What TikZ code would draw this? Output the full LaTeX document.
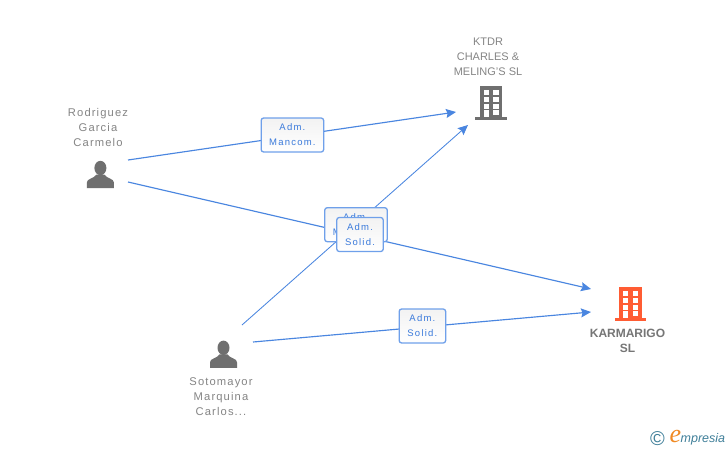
\documentclass[tikz,border=0pt]{standalone}
\usepackage{fontspec}
\setmainfont{Liberation Sans}
\newfontfamily\spacedfont[LetterSpace=10]{Liberation Sans}
\newfontfamily\labelfont[LetterSpace=13]{Liberation Sans}
\newfontfamily\logoefont{Liberation Serif}
\usetikzlibrary{arrows.meta}
\definecolor{linkblue}{HTML}{4A86E0}
\definecolor{boxblue}{HTML}{6FA0EA}
\definecolor{labelblue}{HTML}{3A7ADB}
\definecolor{icongrey}{HTML}{6F6F6F}
\definecolor{textgrey}{HTML}{858585}
\definecolor{boldgrey}{HTML}{767676}
\definecolor{orangeicon}{HTML}{FF5C33}
\definecolor{logoteal}{HTML}{3F7F99}
\definecolor{logoorange}{HTML}{F08A24}
\tikzset{
  link/.style={draw=linkblue,line width=1.15pt,-{Stealth[length=10pt,width=9pt,inset=1.5pt]}},
  rolebox/.style={draw=boxblue,line width=1.3pt,rounded corners=2.5pt,top color=black!5,bottom color=white,
    text=labelblue,align=center,inner sep=0pt,minimum height=34pt,
    font=\labelfont\fontsize{9.5}{15}\selectfont},
  personname/.style={text=textgrey,align=center,inner sep=0pt,font=\spacedfont\fontsize{11.2}{15}\selectfont},
  companyname/.style={text=textgrey,align=center,inner sep=0pt,font=\fontsize{11}{15}\selectfont},
  targetname/.style={text=boldgrey,align=center,inner sep=0pt,font=\bfseries\fontsize{12}{15}\selectfont},
  pics/person/.style={code={
    \fill[icongrey] (0,-6.5) ellipse [x radius=6,y radius=7.2];
    \fill[icongrey] (-13.5,13.5) -- (-13.5,8) .. controls (-13.5,4) and (-7,4.5) .. (-3.8,0)
      -- (3.8,0) .. controls (7,4.5) and (13.5,4) .. (13.5,8) -- (13.5,13.5) -- cycle;
  }},
  pics/building/.style={code={
    \fill[#1] (0,0) rectangle (22.4,33);
    \fill[#1] (-4.6,31) rectangle (27,34);
    \foreach \wy in {3.8,10.9,17.8}{
      \fill[white] (3.7,\wy) rectangle (9,\wy+4.9);
      \fill[white] (13.2,\wy) rectangle (18.5,\wy+4.9);
    }
    \fill[white] (3.7,24.4) rectangle (9,31);
    \fill[white] (13.2,24.4) rectangle (18.5,29.2);
  }},
}
\begin{document}
\begin{tikzpicture}[x=1pt,y=-1pt]
\useasboundingbox[fill=white] (0,0) rectangle (728,450);
% connector ends
\coordinate (rodrigueztop) at (128,160);
\coordinate (rodriguezlow) at (128,182);
\coordinate (sotoupper) at (242,325);
\coordinate (sotolower) at (253,342);
\coordinate (ktdrleft) at (456,112);
\coordinate (ktdrlow) at (468,125);
\coordinate (karmaupper) at (591,289);
\coordinate (karmalower) at (591,312);
% connectors
\draw[link] (rodrigueztop) -- (ktdrleft);
\draw[link] (rodriguezlow) -- (karmaupper);
\draw[link,line width=.85pt] (sotoupper) -- (ktdrlow);
\draw[link] (sotolower) -- (karmalower);
% role boxes
\node[rolebox,minimum width=62.5pt] (mancomA) at (292.4,135) {Adm.\\Mancom.};
\node[rolebox,minimum width=62.5pt] (mancomB) at (356,224.7) {Adm.\\Mancom.};
\node[rolebox,minimum width=46.5pt] (solidA) at (360,234.5) {Adm.\\Solid.};
\node[rolebox,minimum width=46.5pt] (solidB) at (422.4,326) {Adm.\\Solid.};
% people
\pic at (100.4,174.5) {person};
\pic at (223.5,354.3) {person};
\node[personname] (rodriguez) at (98,127) {Rodriguez\\Garcia\\Carmelo};
\node[personname] (sotomayor) at (221,396.5) {Sotomayor\\Marquina\\Carlos...};
% companies
\pic at (480,86) {building=icongrey};
\pic at (619.3,287) {building=orangeicon};
\node[companyname] (ktdr) at (488,57) {KTDR\\CHARLES \&\\MELING'S SL};
\node[targetname] (karmarigo) at (627.5,340.5) {KARMARIGO\\SL};
% logo
\node[text=logoteal,inner sep=0pt,font=\fontsize{20}{20}\selectfont] (copyright) at (657.5,438.5) {©};
\node[text=logoorange,inner sep=0pt,font=\logoefont\itshape\fontsize{26}{26}\selectfont] (logoe) at (675.5,436.5) {e};
\node[text=logoteal,inner sep=0pt,anchor=west,font=\itshape\fontsize{12.5}{12.5}\selectfont] (logotext) at (680.5,439) {mpresia};
\end{tikzpicture}
\end{document}
